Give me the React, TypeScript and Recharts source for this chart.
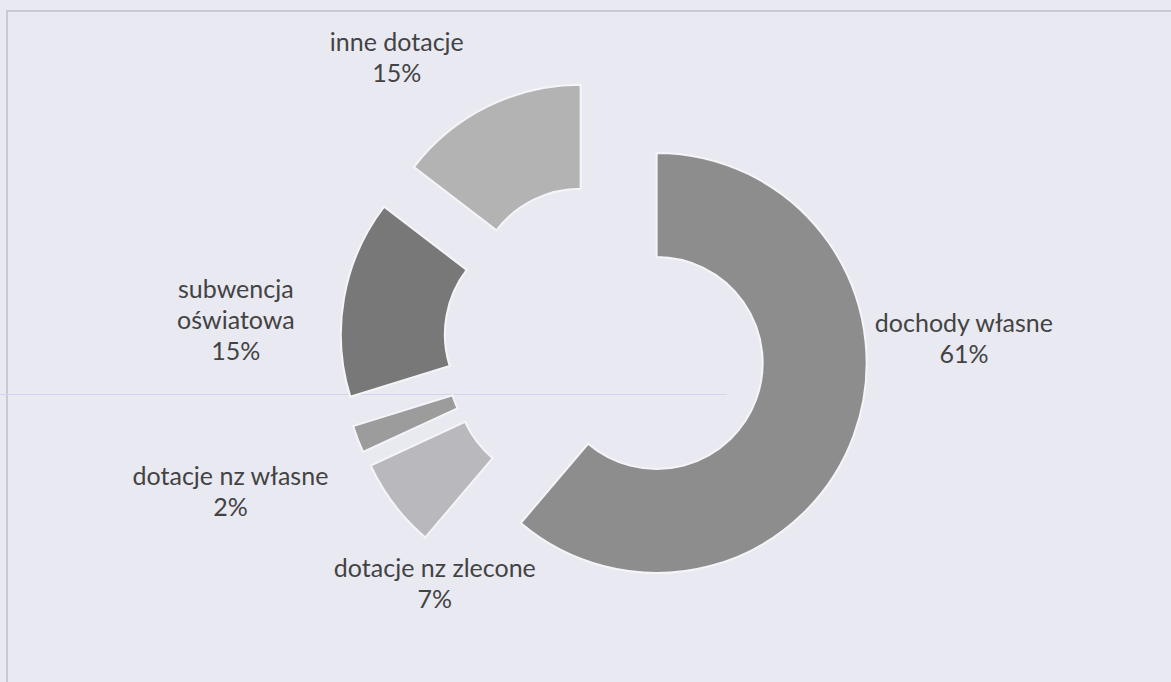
import React from 'react';
import { PieChart, Pie, Cell } from 'recharts';

// ---- data ----
const CATEGORIES = ['dochody własne', 'dotacje nz zlecone', 'dotacje nz własne', 'subwencja\noświatowa', 'inne dotacje'];
const SHARES = [61.2, 6.9, 2.1, 15.2, 14.6];

// ---- styles ----
const COLORS = ['#8d8d8d', '#b9b9bd', '#9c9c9c', '#777877', '#b3b3b3'];
// label block placement around the chart centre (degrees clockwise from 12 o'clock, distance px)
const LABEL_ANGLES = [89, 215.5, 248.7, 273.9, 324.1];
const LABEL_RADII = [359, 293, 402, 370, 355];

const W = 1171;
const H = 682;
const CX = 605;
const CY = 344;
const OUTER = 210;
const INNER = 106;
const EXPLODE = 55;
const FONT = 'Lato, "Open Sans", sans-serif';
const FONT_SIZE = 25;
const LINE_H = 31;
const TEXT_COLOR = '#434343';
const BG = '#e9e9f2';

const data = CATEGORIES.map((name, i) => ({ name, value: SHARES[i] }));
const total = SHARES.reduce((a, b) => a + b, 0);

function midAngleOf(i: number): number {
  const before = SHARES.slice(0, i).reduce((a, b) => a + b, 0);
  const start = 90 - (before / total) * 360;
  const end = 90 - ((before + SHARES[i]) / total) * 360;
  return (start + end) / 2;
}

const renderLabel = (props: any) => {
  const { index, percent } = props;
  const cx = typeof props.cx === 'number' ? props.cx : CX;
  const cy = typeof props.cy === 'number' ? props.cy : CY;
  const a = (LABEL_ANGLES[index] * Math.PI) / 180;
  const x = cx + LABEL_RADII[index] * Math.sin(a);
  const y = cy - LABEL_RADII[index] * Math.cos(a);
  const lines = [...String(CATEGORIES[index]).split('\n'), `${Math.round(percent * 100)}%`];
  const top = y - ((lines.length - 1) * LINE_H) / 2;
  return (
    <g key={`lbl-${index}`}>
      {lines.map((ln, k) => (
        <text
          key={k}
          x={x}
          y={top + k * LINE_H}
          textAnchor="middle"
          dominantBaseline="central"
          fill={TEXT_COLOR}
          fontFamily={FONT}
          fontSize={FONT_SIZE}
        >
          {ln}
        </text>
      ))}
    </g>
  );
};

export default function App() {
  return (
    <div
      style={{
        position: 'absolute',
        left: 0,
        top: 0,
        width: W,
        height: H,
        background: BG,
        overflow: 'hidden',
      }}
    >
      <div style={{ position: 'absolute', left: 6, top: 10, width: W, height: H, borderLeft: '2px solid #c9c9d1', borderTop: '2px solid #cacad2' }} />
      <div style={{ position: 'absolute', left: 0, top: 394, width: 727, height: 1, background: '#d3d3ee' }} />
      <div style={{ position: 'absolute', left: 0, top: 0 }}>
        <PieChart width={W} height={H} margin={{ top: 0, right: 0, bottom: 0, left: 0 }}>
          {data.map((_, i) => {
            const mid = (midAngleOf(i) * Math.PI) / 180;
            const pcx = CX + EXPLODE * Math.cos(mid);
            const pcy = CY - EXPLODE * Math.sin(mid);
            return (
              <Pie
                key={`slice-${i}`}
                data={data}
                dataKey="value"
                nameKey="name"
                cx={pcx}
                cy={pcy}
                innerRadius={INNER}
                outerRadius={OUTER}
                startAngle={90}
                endAngle={-270}
                isAnimationActive={false}
                labelLine={false}
                label={false}
              >
                {data.map((__, j) => (
                  <Cell
                    key={`c-${j}`}
                    fill={j === i ? COLORS[j] : 'transparent'}
                    stroke={j === i ? '#f5f5f9' : 'none'}
                    strokeWidth={j === i ? 2 : 0}
                  />
                ))}
              </Pie>
            );
          })}
          <Pie
            data={data}
            dataKey="value"
            nameKey="name"
            cx={CX}
            cy={CY}
            innerRadius={INNER}
            outerRadius={OUTER}
            startAngle={90}
            endAngle={-270}
            isAnimationActive={false}
            fill="transparent"
            stroke="none"
            labelLine={false}
            label={renderLabel}
          />
        </PieChart>
      </div>
    </div>
  );
}
